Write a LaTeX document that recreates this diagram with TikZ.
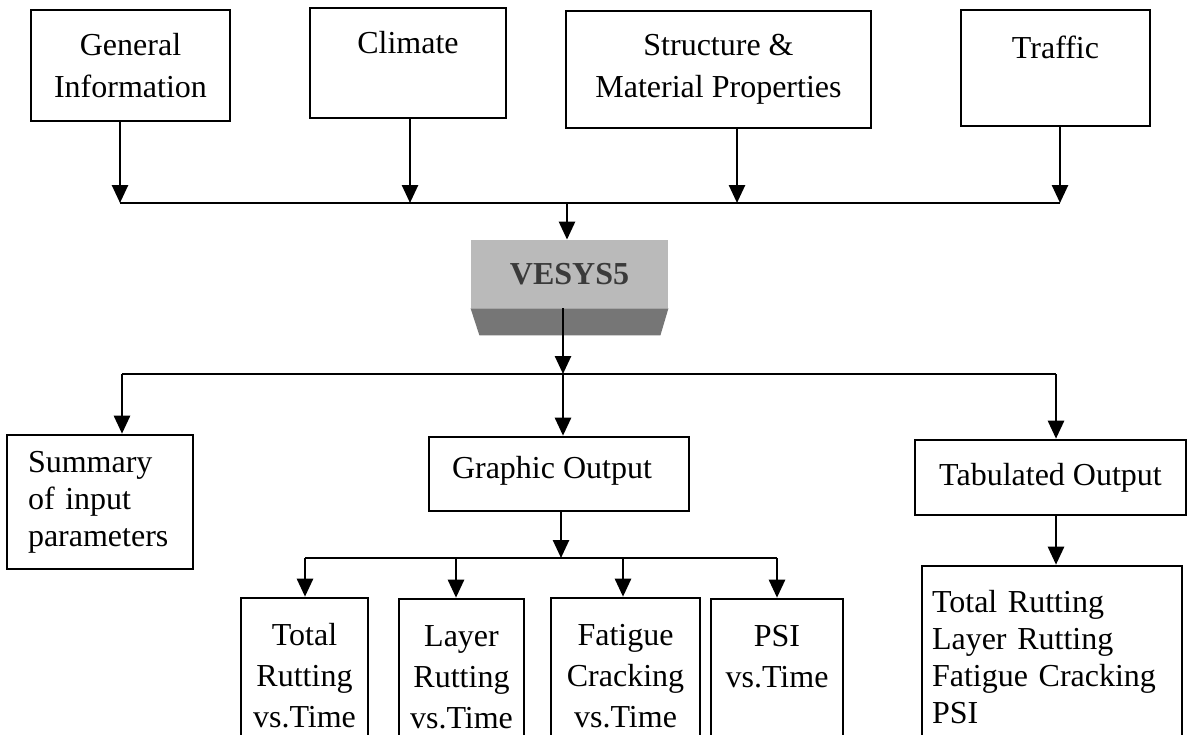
\documentclass[tikz,border=0pt]{standalone}
\usepackage{fontspec}
\setmainfont{Liberation Serif}
\usetikzlibrary{arrows.meta}
\definecolor{vlight}{RGB}{186,186,186}
\definecolor{vdark}{RGB}{118,118,118}
\definecolor{vtext}{RGB}{58,58,58}
\begin{document}
\begin{tikzpicture}[x=0.5pt,y=-0.5pt,
  every node/.style={font=\fontsize{16pt}{21pt}\selectfont},
  box/.style={draw=black,line width=1.3pt,align=center,inner sep=0pt},
  conn/.style={line width=1.3pt},
  arr/.style={line width=1.3pt,-{Triangle[width=8pt,length=9pt]}},
  lbox/.style={box,align=left,inner ysep=0pt},
  smallbox/.style={box,minimum height=78pt,font=\fontsize{16pt}{20.5pt}\selectfont}
]
\useasboundingbox (0,0) rectangle (1188,734);
\clip (0,0) rectangle (1188,734);
\fill[white] (0,0) rectangle (1188,734);

% top input boxes
\node[box,minimum width=99.5pt,minimum height=55.5pt] (gen) at (130.5,65.5) {General\\Information};
\node[box,minimum width=98pt,minimum height=55pt] (clim) at (408,63) {Climate\\\mbox{}};
\node[box,minimum width=152.5pt,minimum height=58.5pt] (struct) at (718.5,69.5) {Structure \&\\Material Properties};
\node[box,minimum width=94.5pt,minimum height=58pt] (traf) at (1055.5,68) {Traffic\\\mbox{}};

% bus 1
\coordinate (j1) at (120,203);
\coordinate (j2) at (410,203);
\coordinate (j3) at (737,203);
\coordinate (j4) at (1060,203);
\coordinate (j0) at (567,203);
\draw[arr] (gen.south -| j1) -- (j1);
\draw[arr] (clim.south -| j2) -- (j2);
\draw[arr] (struct.south -| j3) -- (j3);
\draw[arr] (traf.south -| j4) -- (j4);
\draw[conn] (j1) -- (j4);

% VESYS5 block
\node[fill=vlight,minimum width=98.5pt,minimum height=34pt,inner sep=0pt,
      font=\fontsize{16pt}{19pt}\selectfont\bfseries,text=vtext] (vesys) at (569.5,274) {VESYS5};
\fill[vdark] (vesys.south west) -- (vesys.south east) -- ++(-8,27) -- ++(-181,0) -- cycle;
\draw[arr] (j0) -- (vesys.north -| j0);

% bus 2
\coordinate (k1) at (122,374);
\coordinate (k2) at (563,374);
\coordinate (k3) at (1056,374);
\draw[arr] (vesys.south -| k2) -- (k2);
\draw[conn] (k1) -- (k3);

\node[lbox,text width=72pt,inner xsep=10.5pt,minimum height=67pt,
      font=\fontsize{16pt}{18.5pt}\selectfont] (summ) at (100,502) {Summary\\of input\\parameters};
\node[box,minimum width=130pt,minimum height=37pt] (graph) at (559,474) {\hspace*{-7pt}Graphic Output\raisebox{0pt}[0pt][7pt]{}};
\node[box,minimum width=135.5pt,minimum height=37.5pt] (tab) at (1050.5,477.5) {Tabulated Output};

\draw[arr] (k1) -- (summ.north -| k1);
\draw[arr] (k2) -- (graph.north -| k2);
\draw[arr] (k3) -- (tab.north -| k3);

% tabulated list
\node[lbox,text width=120pt,inner xsep=5pt,minimum height=91pt,
      font=\fontsize{16pt}{18.5pt}\selectfont] (tabl) at (1052,657) {Total Rutting\\Layer Rutting\\Fatigue Cracking\\PSI};
\draw[arr] (tab.south -| k3) -- (tabl.north -| k3);

% bus 3
\coordinate (m0) at (561,558);
\coordinate (m1) at (305,558);
\coordinate (m2) at (456,558);
\coordinate (m3) at (623,558);
\coordinate (m4) at (777,558);
\draw[arr] (graph.south -| m0) -- (m0);
\draw[conn] (m1) -- (m4);

\node[smallbox,minimum width=63.5pt] (tot) at (304.5,676) {Total\\Rutting\\vs.Time};
\node[smallbox,minimum width=62.5pt] (lay) at (461.5,677) {Layer\\Rutting\\vs.Time};
\node[smallbox,minimum width=74.5pt] (fat) at (625.5,676) {Fatigue\\Cracking\\vs.Time};
\node[smallbox,minimum width=66pt] (psi) at (777,677) {PSI\\vs.Time\\\mbox{}};

\draw[arr] (m1) -- (tot.north -| m1);
\draw[arr] (m2) -- (lay.north -| m2);
\draw[arr] (m3) -- (fat.north -| m3);
\draw[arr] (m4) -- (psi.north -| m4);
\end{tikzpicture}
\end{document}
